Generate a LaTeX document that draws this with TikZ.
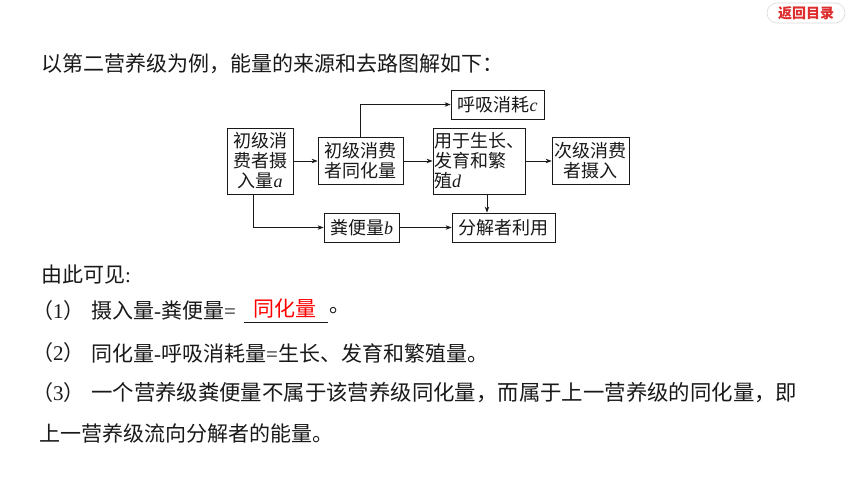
\documentclass[tikz,border=0pt]{standalone}
\usepackage{fontspec}
\setmainfont{Noto Sans CJK SC}
\newfontfamily\lat{Liberation Serif}
\usetikzlibrary{arrows.meta}
\newcommand\iv[1]{{\lat\itshape #1}}
\newcommand\la[1]{{\lat #1}}
\definecolor{btnred}{RGB}{222,45,45}
\definecolor{ink}{RGB}{25,25,25}
\begin{document}
\begin{tikzpicture}[x=1pt,y=-1pt,
 box/.style={draw=ink, line width=0.8pt, inner sep=0pt, align=center, font=\fontsize{18}{20}\selectfont, text=ink},
 arr/.style={draw=ink, line width=0.8pt, -{Stealth[length=6pt,width=4.5pt]}},
 body/.style={anchor=west, inner sep=0pt, font=\fontsize{21}{24}\selectfont, text=ink}
]
\fill[white] (0,0) rectangle (860,484);
\useasboundingbox (0,0) rectangle (860,484);

% top-right button
\node[draw=black!15, line width=0.6pt, rounded corners=10pt, minimum width=78pt, minimum height=20pt, inner sep=0pt, font=\fontsize{14}{14}\selectfont\bfseries, text=btnred] (btn) at (806,13) {返回目录};

% heading
\node[body] (t1) at (41,64) {以第二营养级为例，能量的来源和去路图解如下：};

% diagram
\node[box, minimum width=66pt, minimum height=66pt] (A) at (260,161) {初级消\\费者摄\\入量\iv{a}};
\node[box, minimum width=85pt, minimum height=47pt] (B) at (360.5,161) {初级消费\\者同化量};
\node[box, minimum width=92pt, minimum height=66pt, align=left] (C) at (479,161) {用于生长、\\发育和繁\\殖\iv{d}};
\node[box, minimum width=77pt, minimum height=47pt] (D) at (590.5,161) {次级消费\\者摄入};
\node[box, minimum width=93pt, minimum height=29pt] (E) at (497.5,104.5) {呼吸消耗\iv{c}};
\node[box, minimum width=75pt, minimum height=29pt] (F) at (361.5,227.5) {粪便量\iv{b}};
\node[box, minimum width=103pt, minimum height=29pt] (G) at (503.5,227.5) {分解者利用};

\draw[arr] (A) -- (B);
\draw[arr] (B) -- (C);
\draw[arr] (C) -- (D);
\draw[arr] (B.north) |- (E);
\draw[arr] ([xshift=-7pt]A.south) |- (F);
\draw[arr] (F) -- (G);
\draw[arr] ([xshift=8pt]C.south) -- ([xshift=8pt]C.south |- G.north);

% body text
\node[body] (t2) at (41,275) {由此可见\la{:}};
\node[body] (p1) at (32,311) {（\la{1}）};
\node[body] (l1) at (91,311) {摄入量\la{-}粪便量\la{=}};
\coordinate (u1) at (244,322);
\coordinate (u2) at (328,322);
\draw[line width=0.6pt, ink] (u1) -- (u2);
\node[body, anchor=center, text=red] (ans) at (285,309) {同化量};
\node[body] (dot1) at (329,311) {。};
\node[body] (p2) at (32,353) {（\la{2}）};
\node[body] (l2) at (91,353) {同化量\la{-}呼吸消耗量\la{=}生长、发育和繁殖量。};
\node[body] (p3) at (32,393) {（\la{3}）};
\node[body, font=\fontsize{21.4}{24}\selectfont] (l3) at (91,393) {一个营养级粪便量不属于该营养级同化量，而属于上一营养级的同化量，即};
\node[body] (l4) at (39,433) {上一营养级流向分解者的能量。};
\end{tikzpicture}
\end{document}
